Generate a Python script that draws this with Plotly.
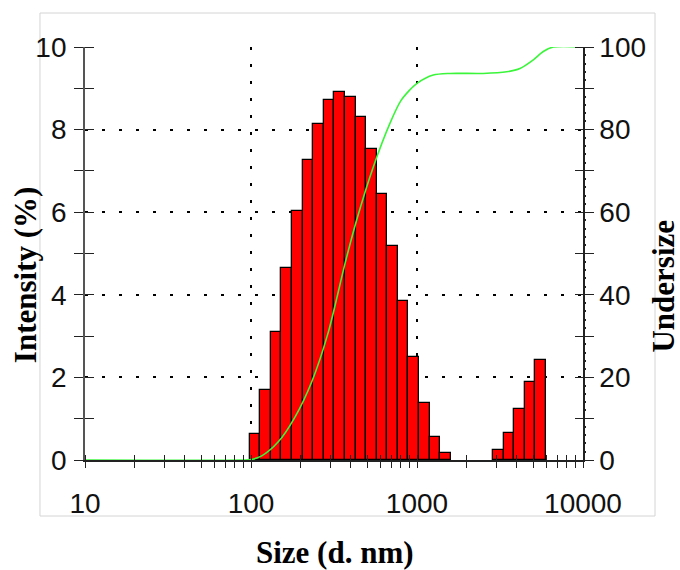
import numpy as np
import plotly.graph_objects as go

# ---- data ----
size_nm = [105.7, 122.4, 141.8, 164.2, 190.1, 220.2, 255.0, 295.3, 342.0, 396.1,
           458.7, 531.2, 615.1, 712.4, 825.0, 955.4, 1106, 1281, 1484, 1718,
           1990, 2305, 2669, 3091, 3580, 4145, 4801, 5560]
intensity_pct = [0.62, 1.69, 3.09, 4.64, 6.04, 7.26, 8.13, 8.72, 8.92, 8.78,
                 8.31, 7.53, 6.44, 5.18, 3.84, 2.50, 1.37, 0.56, 0.16, 0.0,
                 0.0, 0.0, 0.0, 0.25, 0.65, 1.23, 1.90, 2.42]

cum_size = [10, 90, 100, 116, 146, 184, 232, 292, 368, 433, 546, 687, 800, 900,
            1000, 1253, 1580, 2500, 3470, 4170, 5020, 5765, 6620, 10000]
undersize = [0, 0, 0.1, 1.0, 4.4, 10.4, 18.9, 30.9, 47.5, 58.1, 71.0, 81.5, 87.0,
             89.5, 91.2, 93.2, 93.6, 93.6, 94.0, 94.8, 96.9, 98.9, 100, 100]

x_major = [10, 100, 1000, 10000]
x_major_text = ["10", "100", "1000", "10000"]
x_minor = [m * d for d in (10, 100, 1000) for m in range(2, 10)]
y_left_major = [0, 2, 4, 6, 8, 10]
y_left_minor = [1, 3, 5, 7, 9]
y_right_major = [0, 20, 40, 60, 80, 100]
y_right_minor = [10, 30, 50, 70, 90]
y_right_dots = [v for v in range(2, 100, 2) if v % 10 != 0]

bin_width_log = np.log10(10000 / 0.4) / 69

# plot area size in px (for placing the inner halves of the crossing ticks)
PW, PH = 498, 413
AX = "#222222"
TICKFONT = dict(family="Liberation Sans, Arial", size=28, color="#111111")
TITLEFONT = dict(family="Liberation Serif, Times New Roman", size=31, color="#000000")
DOT = "3px,14px"

bar_x = [np.log10(s) for s, v in zip(size_nm, intensity_pct) if v > 0]
bar_y = [v for v in intensity_pct if v > 0]

fig = go.Figure()
# invisible anchors so that every overlay axis is drawn
for xa, ya in (("x", "y"), ("x3", "y3"), ("x", "y4"), ("x", "y5")):
    fig.add_trace(go.Scatter(x=[10], y=[0], xaxis=xa, yaxis=ya, mode="markers",
                             marker=dict(opacity=0), showlegend=False, hoverinfo="skip"))
fig.add_trace(go.Bar(
    x=bar_x, y=bar_y, width=bin_width_log,
    marker=dict(color="#ff0000", line=dict(color="#000000", width=1.3)),
    xaxis="x2", yaxis="y", showlegend=False, hoverinfo="skip"))
fig.add_trace(go.Scatter(
    x=np.log10(cum_size), y=undersize, mode="lines",
    line=dict(color="#3af53a", width=1.6, shape="spline", smoothing=0.8),
    xaxis="x2", yaxis="y2", showlegend=False, hoverinfo="skip"))

tick = dict(ticks="outside", tickwidth=1.3, tickcolor=AX)

fig.update_layout(
    width=680, height=570,
    margin=dict(l=85, r=97, t=47, b=110),
    paper_bgcolor="white", plot_bgcolor="white",
    bargap=0,
    xaxis=dict(type="log", range=[1, 4], tickmode="array", tickvals=x_major, ticktext=x_major_text,
               ticklen=6, **tick,
               minor=dict(tickmode="array", tickvals=x_minor, ticklen=6, showgrid=False, **tick),
               showline=True, linecolor=AX, linewidth=1.5, showgrid=False, zeroline=False,
               tickfont=TICKFONT, ticklabelstandoff=12, anchor="y"),
    xaxis2=dict(range=[1, 4], overlaying="x", showticklabels=False, ticks="", showgrid=False,
                zeroline=False, showline=False, anchor="y"),
    # upper halves of the x ticks + vertical dotted grid
    xaxis3=dict(type="log", range=[1, 4], overlaying="x", tickmode="array", tickvals=x_major,
                ticklen=6, **tick, showticklabels=False,
                minor=dict(tickmode="array", tickvals=x_minor, ticklen=6, showgrid=False, **tick),
                showgrid=True, gridcolor="#000000", gridwidth=2.2, griddash=DOT,
                zeroline=False, showline=False, anchor="free", position=6 / PH),
    yaxis=dict(range=[0, 10], tickmode="array", tickvals=y_left_major, ticklen=9, **tick,
               minor=dict(tickmode="array", tickvals=y_left_minor, ticklen=9, showgrid=False, **tick),
               showline=True, linecolor="#555555", linewidth=1.8, showgrid=False, zeroline=False,
               tickfont=TICKFONT, ticklabelstandoff=2, anchor="x"),
    # inner halves of the left ticks + horizontal dotted grid
    yaxis3=dict(range=[0, 10], overlaying="y", tickmode="array", tickvals=y_left_major,
                ticklen=9, **tick, showticklabels=False,
                minor=dict(tickmode="array", tickvals=y_left_minor, ticklen=9, showgrid=False, **tick),
                showgrid=True, gridcolor="#000000", gridwidth=2.2, griddash=DOT,
                zeroline=False, showline=False, anchor="free", position=9 / PW),
    yaxis2=dict(range=[0, 100], overlaying="y", side="right", tickmode="array", tickvals=y_right_major,
                ticklen=9, **tick,
                minor=dict(tickmode="array", tickvals=y_right_minor, ticklen=9, showgrid=False, **tick),
                showline=True, linecolor=AX, linewidth=1.5, showgrid=False, zeroline=False,
                tickfont=TICKFONT, ticklabelstandoff=0, anchor="x2"),
    # inner halves of the right ticks
    yaxis4=dict(range=[0, 100], overlaying="y", side="right", tickmode="array", tickvals=y_right_major,
                ticklen=9, **tick, showticklabels=False,
                minor=dict(tickmode="array", tickvals=y_right_minor, ticklen=9, showgrid=False, **tick),
                showgrid=False, zeroline=False, showline=False, anchor="free", position=1 - 9 / PW),
    # small dots along the right axis
    yaxis5=dict(range=[0, 100], overlaying="y", side="right", tickmode="array", tickvals=y_right_dots,
                ticks="outside", ticklen=3, tickwidth=2.4, tickcolor=AX, showticklabels=False,
                showgrid=False, zeroline=False, showline=False, anchor="free", position=1 - 1.5 / PW),
    shapes=[dict(type="rect", xref="paper", yref="paper", x0=-0.0904, x1=1.1446, y0=-0.1356, y1=1.0823,
                 line=dict(color="#d4d4d4", width=1), fillcolor="rgba(0,0,0,0)", layer="below")],
    annotations=[
        dict(text="<b>Size (d. nm)</b>", xref="paper", yref="paper", x=0.502, y=-0.2228,
             showarrow=False, font=TITLEFONT, xanchor="center", yanchor="middle"),
        dict(text="<b>Intensity (%)</b>", xref="paper", yref="paper", x=-0.1205, y=0.45,
             showarrow=False, font=TITLEFONT, textangle=-90, xanchor="center", yanchor="middle"),
        dict(text="<b>Undersize</b>", xref="paper", yref="paper", x=1.1627, y=0.42,
             showarrow=False, font=TITLEFONT, textangle=-90, xanchor="center", yanchor="middle"),
    ],
)

fig.write_html("out.html")
